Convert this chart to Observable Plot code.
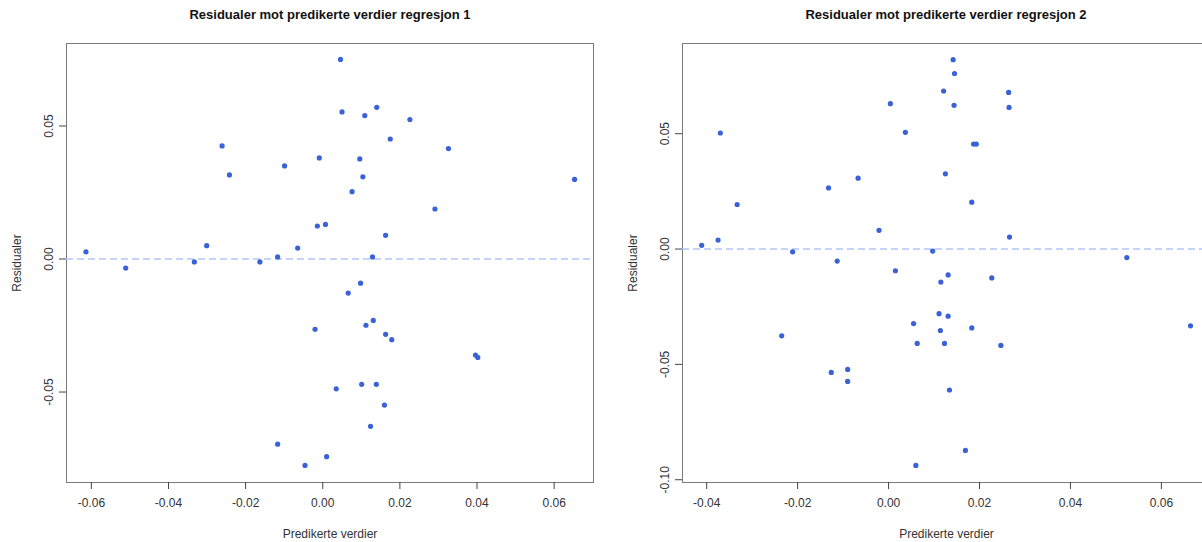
<!DOCTYPE html>
<html><head><meta charset="utf-8">
<script src="https://cdn.jsdelivr.net/npm/d3@7"></script>
<script src="https://cdn.jsdelivr.net/npm/@observablehq/plot@0.6"></script>
<style>
html,body{margin:0;padding:0;background:#fff;overflow:hidden;}
#wrap{position:relative;width:1202px;height:542px;overflow:hidden;font-family:"Liberation Sans",Arial,sans-serif;}
.panel{position:absolute;top:0;}
.title{position:absolute;top:7px;font-weight:bold;font-size:13px;color:#111;white-space:nowrap;transform:translateX(-50%);}
</style></head><body><div id="wrap"></div>
<script>
// Regression 1: predicted values and residuals
const pred1 = [-0.0614,-0.0511,-0.0333,-0.0301,-0.0261,-0.0242,-0.0163,-0.0117,-0.0099,-0.0065,-0.0014,0.0007,-0.0009,0.0046,0.0050,0.0076,0.0109,0.0140,0.0226,0.0175,0.0096,0.0104,0.0326,0.0653,0.0291,0.0163,0.0129,0.0066,0.0098,-0.0020,0.0035,0.0101,-0.0117,-0.0046,0.0010,0.0131,0.0112,0.0163,0.0179,0.0396,0.0402,0.0139,0.0160,0.0124];
const resid1 = [0.0027,-0.0034,-0.0011,0.0050,0.0425,0.0316,-0.0011,0.0008,0.0350,0.0041,0.0124,0.0130,0.0380,0.0750,0.0553,0.0253,0.0539,0.0570,0.0524,0.0451,0.0376,0.0309,0.0415,0.0299,0.0188,0.0089,0.0008,-0.0128,-0.0091,-0.0264,-0.0488,-0.0471,-0.0696,-0.0776,-0.0743,-0.0231,-0.0249,-0.0283,-0.0303,-0.0361,-0.0370,-0.0471,-0.0549,-0.0629];
// Regression 2
const pred2 = [-0.0411,-0.0375,-0.0370,-0.0333,-0.0211,-0.0113,-0.0132,-0.0067,-0.0021,0.0004,0.0037,0.0015,0.0097,0.0121,0.0125,0.0131,0.0142,0.0145,0.0144,0.0264,0.0265,0.0187,0.0193,0.0183,0.0266,0.0524,0.0227,0.0115,0.0111,0.0131,0.0055,0.0114,0.0063,0.0123,-0.0235,-0.0126,-0.0090,-0.0090,0.0134,0.0060,0.0183,0.0247,0.0664,0.0169];
const resid2 = [0.0016,0.0039,0.0503,0.0193,-0.0012,-0.0052,0.0265,0.0307,0.0081,0.0630,0.0506,-0.0094,-0.0009,0.0685,0.0326,-0.0112,0.0821,0.0761,0.0623,0.0679,0.0614,0.0455,0.0455,0.0203,0.0052,-0.0037,-0.0125,-0.0143,-0.0280,-0.0291,-0.0323,-0.0353,-0.0409,-0.0409,-0.0376,-0.0535,-0.0522,-0.0574,-0.0611,-0.0938,-0.0342,-0.0418,-0.0333,-0.0873];

const xTicks1 = [-0.06,-0.04,-0.02,0,0.02,0.04,0.06];
const yTicks1 = [-0.05,0,0.05];
const xTicks2 = [-0.04,-0.02,0,0.02,0.04,0.06];
const yTicks2 = [-0.10,-0.05,0,0.05];

const title1 = "Residualer mot predikerte verdier regresjon 1";
const title2 = "Residualer mot predikerte verdier regresjon 2";
const xLabel = "Predikerte verdier";
const yLabel = "Residualer";

const fmt = d => d.toFixed(2);

function makePanel({xs, ys, xDomain, yDomain, xTicks, yTicks, width, marginLeft, marginRight}) {
  const data = xs.map((x, i) => ({x, y: ys[i]}));
  return Plot.plot({
    width, height: 542,
    marginLeft, marginRight, marginTop: 43, marginBottom: 60,
    style: {fontFamily: "'Liberation Sans', Arial, sans-serif", fontSize: "12px", color: "#333", background: "white", overflow: "visible"},
    x: {domain: xDomain},
    y: {domain: yDomain},
    marks: [
      Plot.frame({stroke: "#7a7a7a", strokeWidth: 1}),
      Plot.ruleY([0], {stroke: "#b2c5ff", strokeWidth: 1.6, strokeDasharray: "7,4"}),
      Plot.dot(data, {x: "x", y: "y", r: 2.6, fill: "#3a62d6", stroke: "none"}),
      Plot.axisX({ticks: xTicks, tickFormat: fmt, tickSize: 7, tickPadding: 9, stroke: "#444",
        label: xLabel, labelAnchor: "center", labelArrow: "none", labelOffset: 55}),
      Plot.axisY({ticks: yTicks, tickFormat: fmt, tickSize: 7, tickPadding: 7, tickRotate: -90, stroke: "#444",
        label: yLabel, labelAnchor: "center", labelArrow: "none", labelOffset: 54})
    ]
  });
}

const wrap = document.getElementById("wrap");

const p1 = makePanel({xs: pred1, ys: resid1, xDomain: [-0.06645, 0.07021], yDomain: [-0.0840, 0.0810],
  xTicks: xTicks1, yTicks: yTicks1, width: 601, marginLeft: 66, marginRight: 8});
p1.classList.add("panel"); p1.style.left = "0px";
wrap.appendChild(p1);

const p2 = makePanel({xs: pred2, ys: resid2, xDomain: [-0.04532, 0.0708], yDomain: [-0.1012, 0.0891],
  xTicks: xTicks2, yTicks: yTicks2, width: 620, marginLeft: 81, marginRight: 11});
p2.classList.add("panel"); p2.style.left = "601px";
wrap.appendChild(p2);

for (const [t, cx] of [[title1, 330], [title2, 946]]) {
  const d = document.createElement("div");
  d.className = "title";
  d.textContent = t;
  d.style.left = cx + "px";
  wrap.appendChild(d);
}
</script></body></html>
